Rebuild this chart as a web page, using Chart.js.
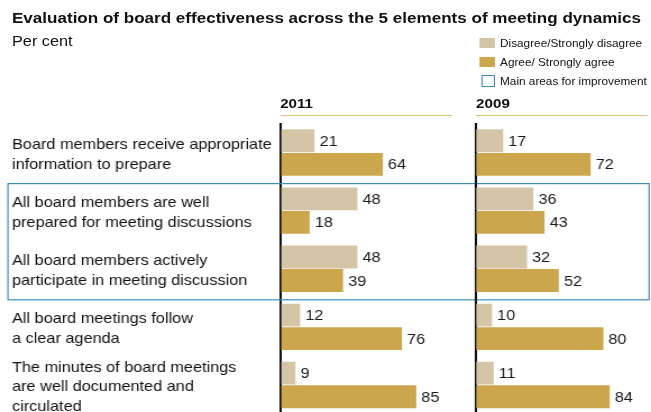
<!DOCTYPE html>
<html>
<head>
<meta charset="utf-8">
<script src="https://cdn.jsdelivr.net/npm/chart.js@4.4.1/dist/chart.umd.min.js"></script>
<style>
  html, body { margin: 0; padding: 0; background: #fff; overflow: hidden; }
  body { width: 651px; height: 412px; position: relative; }
  /* the figure is laid out on a 580px stage and widened to 651px */
  #stage { position: absolute; left: 0; top: 0; width: 580px; height: 414px; transform: scaleX(1.12241); transform-origin: 0 0;
           font-family: "Liberation Sans", Arial, sans-serif; color: #111; }
  canvas { position: absolute; left: 0; top: 0; }
  #title { position: absolute; left: 10.7px; top: 9px; font-size: 15.2px; font-weight: bold; white-space: nowrap; }
  #unit { position: absolute; left: 10.7px; top: 33px; font-size: 14.5px; }
  .legend { position: absolute; left: 426.8px; font-size: 10.5px; white-space: nowrap; line-height: 14px; }
  .legend .sw { display: inline-block; width: 14.2px; height: 10px; vertical-align: -1px; margin-right: 4.5px; }
  .year { position: absolute; top: 96px; width: 153.3px; height: 19px; font-size: 13.5px; font-weight: bold; border-bottom: 1.5px solid #DCC27A; }
</style>
</head>
<body>
<div id="stage">
<canvas id="c2011" width="580" height="414"></canvas>
<canvas id="c2009" width="580" height="414"></canvas>
<div id="title">Evaluation of board effectiveness across the 5 elements of meeting dynamics</div>
<div id="unit">Per cent</div>
<div class="legend" style="top:35.5px"><span class="sw" style="background:#D3C5A5"></span>Disagree/Strongly disagree</div>
<div class="legend" style="top:54.5px"><span class="sw" style="background:#CCA64C"></span>Agree/ Strongly agree</div>
<div class="legend" style="top:73.5px"><span class="sw" style="box-sizing:border-box;width:12px;height:12px;margin-left:2.2px;margin-right:4.5px;border:1.2px solid #3F8BBA;vertical-align:-2px"></span>Main areas for improvement</div>
<div class="year" style="left:249.6px">2011</div>
<div class="year" style="left:424.2px">2009</div>
</div>
<script>
// Survey statements (one array entry per line of the label)
const categories = [
  ["Board members receive appropriate", "information to prepare"],
  ["All board members are well", "prepared for meeting discussions"],
  ["All board members actively", "participate in meeting discussion"],
  ["All board meetings follow", "a clear agenda"],
  ["The minutes of board meetings", "are well documented and", "circulated"]
];
const seriesNames = ["Disagree/Strongly disagree", "Agree/ Strongly agree"];
const disagree2011 = [21, 48, 48, 12, 9];
const agree2011    = [64, 18, 39, 76, 85];
const disagree2009 = [17, 36, 32, 10, 11];
const agree2009    = [72, 43, 52, 80, 84];
// Statements flagged as the main areas for improvement
const improvementAreas = [1, 2];

const COLORS = { disagree: "#D3C5A5", agree: "#CCA64C", box: "#3F8BBA", axis: "#111" };
const FONT = "'Liberation Sans', Arial, sans-serif";

// Writes each bar's value just past its end
const valueLabels = {
  id: "valueLabels",
  afterDatasetsDraw(chart) {
    const ctx = chart.ctx;
    ctx.save();
    ctx.font = "14.5px " + FONT;
    ctx.fillStyle = "#1a1a1a";
    ctx.textAlign = "left";
    ctx.textBaseline = "middle";
    chart.data.datasets.forEach((ds, i) => {
      chart.getDatasetMeta(i).data.forEach((bar, j) => {
        ctx.fillText(String(ds.data[j]), bar.x + 4.5, bar.y + 1);
      });
    });
    ctx.restore();
  }
};

// Outlines the block of highlighted statements across the whole figure
const improvementBox = {
  id: "improvementBox",
  afterDraw(chart) {
    const y = chart.scales.y;
    const first = Math.min(...improvementAreas), last = Math.max(...improvementAreas);
    const top = (y.getPixelForValue(first - 1) + y.getPixelForValue(first)) / 2 + 2;
    const bottom = (y.getPixelForValue(last) + y.getPixelForValue(last + 1)) / 2 + 2;
    const ctx = chart.ctx;
    ctx.save();
    ctx.strokeStyle = COLORS.box;
    ctx.lineWidth = 1.2;
    ctx.strokeRect(7.1, top, 571.2, bottom - top);
    ctx.restore();
  }
};

function makePanel(id, dis, agr, showLabels) {
  return new Chart(document.getElementById(id), {
    type: "bar",
    data: {
      labels: categories,
      datasets: [
        { label: seriesNames[0], data: dis, backgroundColor: COLORS.disagree },
        { label: seriesNames[1], data: agr, backgroundColor: COLORS.agree }
      ]
    },
    options: {
      indexAxis: "y",
      responsive: false,
      animation: false,
      events: [],
      categoryPercentage: 0.81,
      barPercentage: 0.97,
      layout: {
        padding: showLabels
          ? { left: 10.7, right: 187.9, top: 123.5, bottom: 0 }
          : { left: 424.2, right: 14.1, top: 123.5, bottom: 0 }
      },
      plugins: { legend: { display: false }, tooltip: { enabled: false } },
      scales: {
        x: { min: 0, max: 100, display: false },
        y: {
          grid: { display: false, drawTicks: false },
          border: { display: true, color: COLORS.axis, width: 2 },
          ticks: {
            display: showLabels,
            autoSkip: false,
            crossAlign: "far",
            labelOffset: 2.5,
            color: "#111",
            font: { family: FONT, size: 14.5, lineHeight: 1.36 }
          },
          afterFit(scale) {
            scale.width = showLabels ? 239.7 : 0;
            // keep the multi-line labels from shrinking the plot area
            scale.paddingTop = 0;
            scale.paddingBottom = 0;
          }
        }
      }
    },
    plugins: showLabels ? [valueLabels, improvementBox] : [valueLabels]
  });
}

makePanel("c2011", disagree2011, agree2011, true);
makePanel("c2009", disagree2009, agree2009, false);
</script>
</body>
</html>
